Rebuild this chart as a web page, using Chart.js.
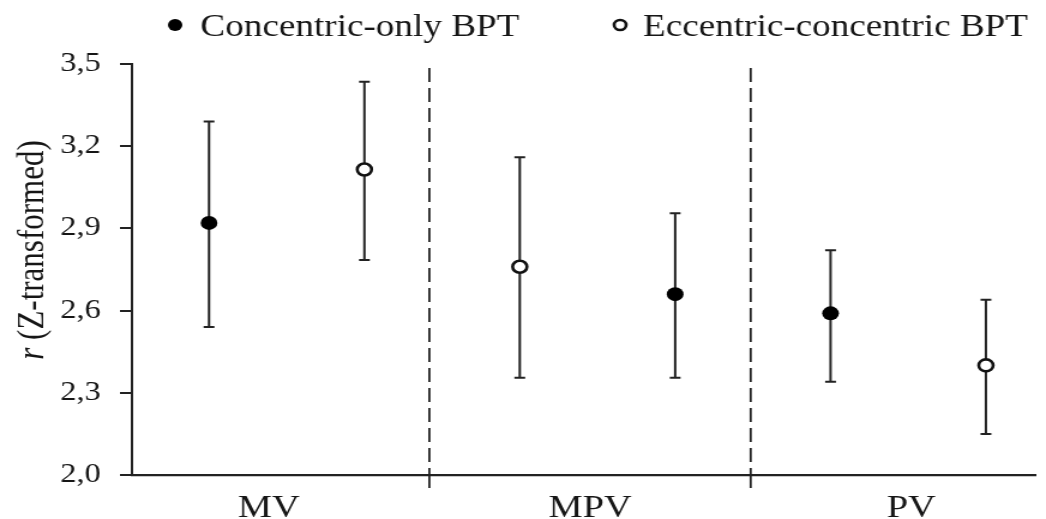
<!DOCTYPE html>
<html>
<head>
<meta charset="utf-8">
<script src="https://cdn.jsdelivr.net/npm/chart.js@4.4.1/dist/chart.umd.min.js"></script>
<style>
    body { margin: 0; background: #fff; overflow: hidden; }
    /* the source figure is stretched a little horizontally */
    #wrap { width: 872px; height: 519px; transform: scaleX(1.1995); transform-origin: 0 0; }
</style>
</head>
<body>
<div id="wrap"><canvas id="chart" width="872" height="519"></canvas></div>
<script>
// categories and values
const categories = ['MV', 'MPV', 'PV'];
const yTicks = [2.0, 2.3, 2.6, 2.9, 3.2, 3.5];

const concMean = [2.92, 2.66, 2.59];
const concLow  = [2.54, 2.355, 2.34];
const concHigh = [3.29, 2.955, 2.82];
const concSide = [0, 1, 0]; // 0 = left point of the group, 1 = right point

const eccMean = [3.115, 2.76, 2.40];
const eccLow  = [2.785, 2.355, 2.15];
const eccHigh = [3.435, 3.16, 2.64];
const eccSide = [1, 0, 1];

const FONT = '"Liberation Serif", "Times New Roman", serif';
const INK = '#161616';
const LINE = '#222';

// x is measured in point slots, a group holds two slots
const groupWidth = 2.068;
const groupStart = -0.65;
function groupCenter(i) { return groupStart + groupWidth * (i + 0.5); }
function groupEdge(i) { return groupStart + groupWidth * i; }

function points(mean, side) {
    return mean.map((m, i) => ({ x: 2 * i + side[i], y: m }));
}

const errorBars = {
    id: 'errorBars',
    beforeDatasetsDraw(chart) {
        const ctx = chart.ctx;
        const xs = chart.scales.x, ys = chart.scales.y;
        const sets = [[concMean, concLow, concHigh, concSide], [eccMean, eccLow, eccHigh, eccSide]];
        ctx.save();
        ctx.strokeStyle = LINE;
        ctx.lineWidth = 2;
        sets.forEach(([mean, low, high, side]) => {
            mean.forEach((m, i) => {
                const px = xs.getPixelForValue(2 * i + side[i]);
                const top = ys.getPixelForValue(high[i]);
                const bot = ys.getPixelForValue(low[i]);
                ctx.beginPath();
                ctx.moveTo(px, top); ctx.lineTo(px, bot);
                ctx.moveTo(px - 4.5, top); ctx.lineTo(px + 4.5, top);
                ctx.moveTo(px - 4.5, bot); ctx.lineTo(px + 4.5, bot);
                ctx.stroke();
            });
        });
        ctx.restore();
    }
};

const dividers = {
    id: 'dividers',
    beforeDatasetsDraw(chart) {
        const ctx = chart.ctx;
        const area = chart.chartArea;
        const xs = chart.scales.x;
        ctx.save();
        ctx.strokeStyle = LINE;
        ctx.lineWidth = 1.8;
        for (let i = 1; i < categories.length; i++) {
            const px = xs.getPixelForValue(groupEdge(i));
            ctx.setLineDash([14, 6]);
            ctx.beginPath();
            ctx.moveTo(px, area.top + 4);
            ctx.lineTo(px, area.bottom);
            ctx.stroke();
            ctx.setLineDash([]);
            ctx.beginPath();
            ctx.moveTo(px, area.bottom);
            ctx.lineTo(px, area.bottom + 13);
            ctx.stroke();
        }
        ctx.restore();
    }
};

const yTitle = {
    id: 'yTitle',
    afterDraw(chart) {
        const ctx = chart.ctx;
        ctx.save();
        ctx.translate(36, 250);
        ctx.rotate(-Math.PI / 2);
        ctx.fillStyle = INK;
        ctx.textBaseline = 'alphabetic';
        const a = 'r', b = ' (Z-transformed)';
        ctx.font = 'italic 31px ' + FONT;
        const wa = ctx.measureText(a).width;
        ctx.font = '31px ' + FONT;
        const wb = ctx.measureText(b).width;
        const x = -(wa + wb) / 2;
        ctx.font = 'italic 31px ' + FONT;
        ctx.fillText(a, x, 0);
        ctx.font = '31px ' + FONT;
        ctx.fillText(b, x + wa, 0);
        ctx.restore();
    }
};

const topLegend = {
    id: 'topLegend',
    afterDraw(chart) {
        const ctx = chart.ctx;
        const items = [
            { ds: chart.data.datasets[0], cx: 146, tx: 167 },
            { ds: chart.data.datasets[1], cx: 517, tx: 536 }
        ];
        ctx.save();
        ctx.font = '31px ' + FONT;
        ctx.textBaseline = 'alphabetic';
        items.forEach(it => {
            ctx.beginPath();
            const open = it.ds.borderWidth > 0;
            ctx.arc(it.cx, 25, open ? 5 : 6, 0, Math.PI * 2);
            ctx.fillStyle = it.ds.backgroundColor;
            ctx.fill();
            if (open) {
                ctx.lineWidth = 2.6;
                ctx.strokeStyle = it.ds.borderColor;
                ctx.stroke();
            }
            ctx.fillStyle = INK;
            ctx.fillText(it.ds.label, it.tx, 36);
        });
        ctx.restore();
    }
};

new Chart(document.getElementById('chart'), {
    type: 'scatter',
    data: {
        datasets: [{
            label: 'Concentric-only BPT',
            data: points(concMean, concSide),
            backgroundColor: '#000',
            borderColor: '#000',
            borderWidth: 0,
            pointRadius: 7,
            pointHoverRadius: 7
        }, {
            label: 'Eccentric-concentric BPT',
            data: points(eccMean, eccSide),
            backgroundColor: '#fff',
            borderColor: '#111',
            borderWidth: 2.6,
            pointRadius: 6,
            pointHoverRadius: 6
        }]
    },
    options: {
        responsive: false,
        devicePixelRatio: 1,
        animation: false,
        layout: { padding: { top: 64, left: 0, right: 0, bottom: 0 } },
        plugins: {
            legend: { display: false },
            tooltip: { enabled: false }
        },
        scales: {
            x: {
                type: 'linear',
                min: -0.496,
                max: 5.32,
                afterBuildTicks: s => { s.ticks = categories.map((c, i) => ({ value: groupCenter(i) })); },
                afterFit: s => { s.height = 44; },
                grid: { display: false, drawTicks: false },
                border: { display: true, color: LINE, width: 2.2 },
                ticks: {
                    autoSkip: false,
                    maxRotation: 0,
                    padding: 14,
                    color: INK,
                    font: { family: FONT, size: 32 },
                    callback: (v, i) => categories[i]
                }
            },
            y: {
                min: 2.0,
                max: 3.5,
                afterBuildTicks: s => { s.ticks = yTicks.map(v => ({ value: v })); },
                afterFit: s => { s.width = 110; },
                grid: { display: true, drawOnChartArea: false, drawTicks: true, tickLength: 10, color: LINE, lineWidth: 2 },
                border: { display: true, color: LINE, width: 2 },
                ticks: {
                    padding: 16,
                    color: INK,
                    font: { family: FONT, size: 27 },
                    callback: v => v.toFixed(1).replace('.', ',')
                }
            }
        }
    },
    plugins: [errorBars, dividers, yTitle, topLegend]
});
</script>
</body>
</html>
